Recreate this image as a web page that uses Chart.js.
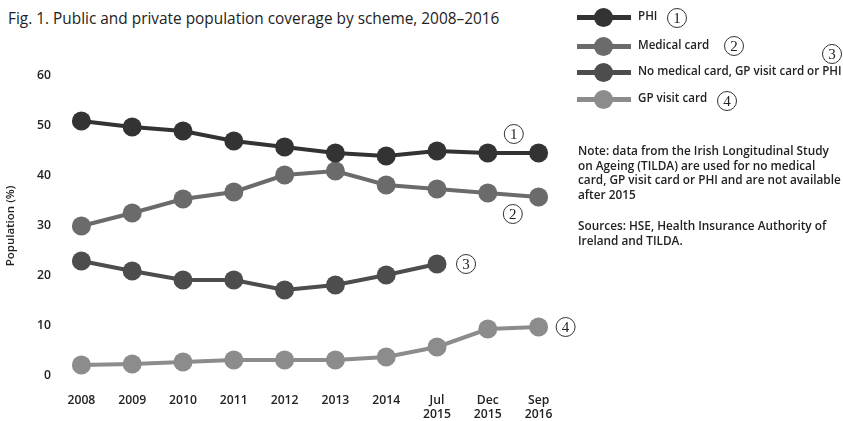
<!DOCTYPE html>
<html>
<head>
<meta charset="utf-8">
<script src="https://cdn.jsdelivr.net/npm/chart.js@4"></script>
<style>
  html, body { margin: 0; padding: 0; background: #fff; }
  body { width: 843px; height: 421px; position: relative; overflow: hidden; font-family: "Open Sans", sans-serif; color: #222; }
  #title { position: absolute; left: 8px; top: 8px; font-size: 15.4px; font-weight: 500; color: #222; white-space: nowrap; }
  #wrap { position: absolute; left: 0; top: 0; width: 580px; height: 421px; }
  #legend { position: absolute; left: 575px; top: 0; }
  .item { position: absolute; left: 0; height: 20px; white-space: nowrap; }
  .item .ln { position: absolute; left: 2px; top: 7px; width: 54px; height: 5px; }
  .item .dot { position: absolute; left: 19px; top: 0; width: 19px; height: 19px; border-radius: 50%; }
  .item .txt { position: absolute; left: 63px; top: 0; font-size: 11.6px; font-weight: 600; color: #222; }
  .circ { position: absolute; width: 18px; height: 18px; border: 1px solid #333; border-radius: 50%; font-family: "Liberation Serif", serif; font-size: 15px; line-height: 18px; text-align: center; color: #222; }
  #note { position: absolute; left: 578px; top: 143px; width: 266px; font-size: 11.8px; font-weight: 600; line-height: 14.6px; color: #222; }
  #note p { margin: 0 0 17px 0; }
</style>
</head>
<body>
<div id="title">Fig. 1. Public and private population coverage by scheme, 2008–2016</div>
<div id="wrap"><canvas id="chart"></canvas></div>
<div id="legend"></div>
<div id="note">
  <p>Note: data from the Irish Longitudinal Study on Ageing (TILDA) are used for no medical card, GP visit card or PHI and are not available after 2015</p>
  <p>Sources: HSE, Health Insurance Authority of Ireland and TILDA.</p>
</div>
<script>
// categories (multi-line labels)
const categories = ['2008', '2009', '2010', '2011', '2012', '2013', '2014', ['Jul', '2015'], ['Dec', '2015'], ['Sep', '2016']];

// series values (% of population)
const phi = [51, 49.8, 49, 47, 45.8, 44.6, 44, 45, 44.6, 44.6];
const medicalCard = [30, 32.6, 35.4, 36.8, 40.2, 41, 38.2, 37.4, 36.6, 35.8];
const noCover = [23, 21, 19.2, 19.2, 17.2, 18.2, 20.2, 22.4, null, null];
const gpVisitCard = [2.2, 2.4, 2.8, 3.2, 3.2, 3.2, 3.8, 5.8, 9.4, 9.8];

const seriesNames = ['PHI', 'Medical card', 'No medical card, GP visit card or PHI', 'GP visit card'];
const seriesColors = ['#333333', '#6b6b6b', '#4d4d4d', '#8c8c8c'];
const seriesNumbers = ['1', '2', '3', '4'];
const yTicks = [0, 10, 20, 30, 40, 50, 60];

// circled number next to a point: [series, category index, dx, dy]
const markerSpots = [[0, 8, 26, -19], [1, 8, 25, 21], [2, 7, 29, 0], [3, 9, 27, 0]];

const allSeries = [phi, medicalCard, noCover, gpVisitCard];

// legend
const legendEl = document.getElementById('legend');
const legendRows = [8, 37, 63, 90];
const legendCirc = [[92, 8], [149, 36], [247, 44], [142, 91]];
seriesNames.forEach((name, i) => {
    const row = document.createElement('div');
    row.className = 'item';
    row.style.top = legendRows[i] + 'px';
    row.innerHTML = `
        <div class="ln" style="background:${seriesColors[i]}"></div>
        <div class="dot" style="background:${seriesColors[i]}"></div>
        <div class="txt">${name}</div>
    `;
    legendEl.appendChild(row);
    const c = document.createElement('div');
    c.className = 'circ';
    c.textContent = seriesNumbers[i];
    c.style.left = legendCirc[i][0] + 'px';
    c.style.top = legendCirc[i][1] + 'px';
    legendEl.appendChild(c);
});

const circledNumbers = {
    id: 'circledNumbers',
    afterDraw(chart) {
        const ctx = chart.ctx;
        const x = chart.scales.x, y = chart.scales.y;
        ctx.save();
        markerSpots.forEach(([s, idx, dx, dy]) => {
            const px = x.getPixelForValue(idx) + dx;
            const py = y.getPixelForValue(allSeries[s][idx]) + dy;
            ctx.beginPath();
            ctx.arc(px, py, 9.5, 0, Math.PI * 2);
            ctx.lineWidth = 1;
            ctx.strokeStyle = '#333';
            ctx.stroke();
            ctx.fillStyle = '#222';
            ctx.font = '15px "Liberation Serif", serif';
            ctx.textAlign = 'center';
            ctx.textBaseline = 'middle';
            ctx.fillText(seriesNumbers[s], px, py + 1);
        });
        ctx.restore();
    }
};

const tickFont = { family: 'Open Sans', size: 12.2, weight: '600', lineHeight: 1.2 };

new Chart(document.getElementById('chart'), {
    type: 'line',
    data: {
        labels: categories,
        datasets: allSeries.map((vals, i) => ({
            label: seriesNames[i],
            data: vals,
            borderColor: seriesColors[i],
            backgroundColor: seriesColors[i],
            pointBackgroundColor: seriesColors[i],
            pointBorderWidth: 0,
            pointRadius: 9.5,
            borderWidth: 4,
            tension: 0,
            clip: false
        }))
    },
    options: {
        responsive: true,
        maintainAspectRatio: false,
        animation: false,
        events: [],
        layout: { padding: { top: 76, right: 16, left: 0, bottom: 0 } },
        plugins: {
            legend: { display: false },
            tooltip: { enabled: false }
        },
        scales: {
            x: {
                offset: true,
                grid: { display: false, drawTicks: false },
                border: { display: false },
                ticks: { font: tickFont, color: '#222', padding: 17, maxRotation: 0, autoSkip: false },
                afterFit: s => { s.height = 45; }
            },
            y: {
                min: 0,
                max: 60,
                afterBuildTicks: s => { s.ticks = yTicks.map(v => ({ value: v })); },
                grid: { display: false, drawTicks: false },
                border: { display: false },
                ticks: { font: tickFont, color: '#222', padding: 5 },
                title: { display: true, text: 'Population (%)', font: { family: 'Open Sans', size: 11.5, weight: '600' }, color: '#222', padding: { top: 4, bottom: 0 } },
                afterFit: s => { s.width = 56; }
            }
        }
    },
    plugins: [circledNumbers]
});
</script>
</body>
</html>
